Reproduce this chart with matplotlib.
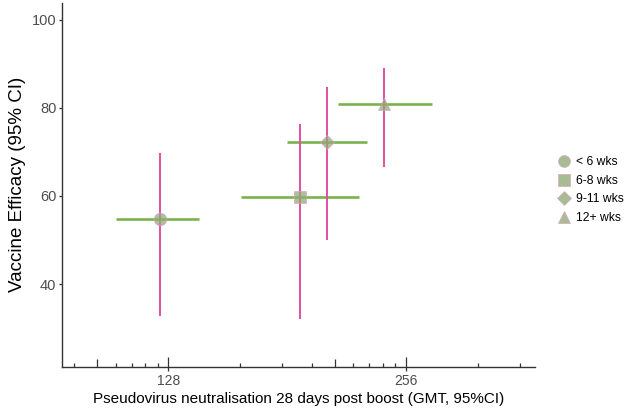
import numpy as np
import matplotlib
matplotlib.use("Agg")
import matplotlib.pyplot as plt
from matplotlib.lines import Line2D

plt.rcParams['font.family'] = ['Liberation Sans', 'DejaVu Sans']

# interval groups and read-off values
groups = ['< 6 wks', '6-8 wks', '9-11 wks', '12+ wks']
markers = ['o', 's', 'D', '^']
gmt = [125, 188, 203, 240]
gmt_lo = [110, 158, 181, 210]
gmt_hi = [140, 223, 228, 276]
ve = [54.8, 59.8, 72.3, 80.8]
ve_lo = [32.7, 32.0, 50.0, 66.5]
ve_hi = [69.7, 76.4, 84.6, 89.0]

x_major = [128, 256]
y_major = [40, 60, 80, 100]

green = '#7ab24c'
pink = '#e04fa3'
pt_face = '#93ab78'

fig = plt.figure(figsize=(6.33, 4.15), dpi=100)
ax = fig.add_axes([0.0984, 0.1164, 0.7468, 0.8764])

# horizontal (GMT) intervals, then vertical (VE) intervals
ax.hlines(ve, gmt_lo, gmt_hi, color=green, lw=1.9, zorder=2)
ax.vlines(gmt, ve_lo, ve_hi, color=pink, lw=1.4, zorder=3)
for g, x, y, m in zip(groups, gmt, ve, markers):
    ms = 7.5 if m == 'D' else 9
    ax.plot(x, y, marker=m, ms=ms, ls='none', mfc=pt_face, mec='#d9a3c0',
            mew=0.6, alpha=0.75, zorder=4)

ax.set_xscale('log', base=2)
lo, hi = np.log2(100), np.log2(350)
pad = 0.05 * (hi - lo)
ax.set_xlim(2 ** (lo - pad), 2 ** (hi + pad))
ax.set_ylim(25 - 3.75, 100 + 3.75)

ax.set_xticks(x_major)
ax.set_xticklabels([str(v) for v in x_major])
ax.xaxis.set_minor_locator(matplotlib.ticker.NullLocator())
ax.set_yticks(y_major)

for s in ['top', 'right']:
    ax.spines[s].set_visible(False)
for s in ['left', 'bottom']:
    ax.spines[s].set_color('#333333')
    ax.spines[s].set_linewidth(1.0)

ax.tick_params(axis='x', direction='out', length=3.2, width=0.9, color='#333333',
               labelsize=10, labelcolor='#4d4d4d', pad=2)
ax.tick_params(axis='y', direction='out', length=2.2, width=0.9, color='#333333',
               labelsize=10.5, labelcolor='#4d4d4d', pad=2)

# log ticks inside the panel (annotation_logticks style)
xmin, xmax = ax.get_xlim()
trans = ax.get_xaxis_transform()
for n in range(5, 10):
    for k in range(1, 10):
        v = 2 ** (n + np.log10(k))
        if not (xmin <= v <= xmax):
            continue
        h = 0.026 if k == 1 else (0.02 if k == 5 else 0.011)
        ax.vlines(v, 0, h, transform=trans, color='#333333', lw=0.9, clip_on=False)

ax.set_xlabel('Pseudovirus neutralisation 28 days post boost (GMT, 95%CI)',
              fontsize=11, labelpad=3)
ax.set_ylabel('Vaccine Efficacy (95% CI)', fontsize=13.5, labelpad=4)

handles = [Line2D([], [], marker=m, ls='none', ms=8.5 if m != 'D' else 7.5,
                  mfc=pt_face, mec='#d9a3c0', mew=0.6, alpha=0.8) for m in markers]
fig.legend(handles, groups, loc='center left', bbox_to_anchor=(0.872, 0.542),
           frameon=False, fontsize=8.7, handletextpad=0.5, labelspacing=0.55,
           handlelength=1.0, borderpad=0)

fig.savefig('out.png', dpi=100)
